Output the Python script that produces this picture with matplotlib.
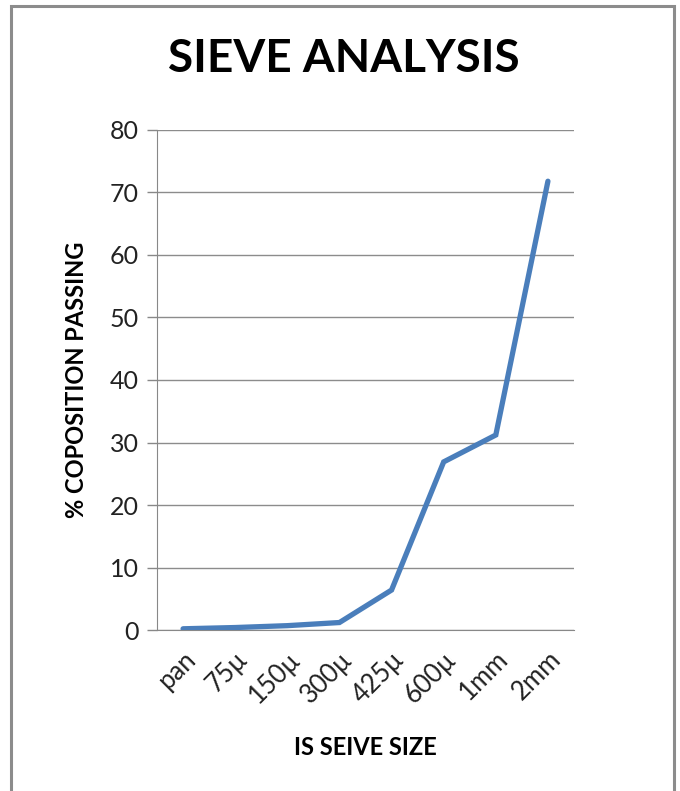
import matplotlib
matplotlib.use('Agg')
import matplotlib.pyplot as plt
from matplotlib.patches import Rectangle

# sieve sizes and cumulative % passing
sieve_sizes = ['pan', '75µ', '150µ', '300µ', '425µ', '600µ', '1mm', '2mm']
percent_passing = [0.2, 0.4, 0.7, 1.2, 6.4, 26.9, 31.2, 71.8]
y_ticks = [0, 10, 20, 30, 40, 50, 60, 70, 80]

plt.rcParams['font.family'] = ['Lato', 'DejaVu Sans']

fig = plt.figure(figsize=(6.8, 7.91), dpi=100)
ax = fig.add_axes([0.2309, 0.2035, 0.6132, 0.6322])

# chart border
fig.patches.append(Rectangle((11 / 680, -0.05), 663 / 680, 1.05 - 6 / 791,
                             transform=fig.transFigure, fill=False,
                             edgecolor='#8c8c8c', linewidth=2.2))

x = range(len(sieve_sizes))
ax.plot(x, percent_passing, color='#4a7ebb', linewidth=3.8,
        solid_joinstyle='miter', solid_capstyle='round', zorder=3)

ax.set_xlim(-0.5, len(sieve_sizes) - 0.5)
ax.set_ylim(0, 80)
ax.set_yticks(y_ticks)
ax.set_xticks(list(x))
ax.set_xticklabels(sieve_sizes, rotation=45, ha='right', rotation_mode='anchor',
                   fontsize=18.5, color='#222222')
ax.tick_params(axis='y', labelsize=18, labelcolor='#222222', length=7,
               width=1, color='#888888', pad=6)
ax.tick_params(axis='x', length=0, pad=12)

ax.grid(axis='y', color='#8c8c8c', linewidth=1)
ax.set_axisbelow(True)
for side in ['top', 'right']:
    ax.spines[side].set_visible(False)
ax.spines['left'].set_color('#888888')
ax.spines['bottom'].set_color('#888888')

fig.suptitle('SIEVE ANALYSIS', x=0.505, y=0.926, va='center',
             fontsize=33, fontweight='bold')
ax.set_xlabel('IS SEIVE SIZE', fontsize=17, fontweight='bold', labelpad=20)
ax.set_ylabel('% COPOSITION PASSING', fontsize=17, fontweight='bold', labelpad=16)

fig.savefig('out.png', dpi=100)
